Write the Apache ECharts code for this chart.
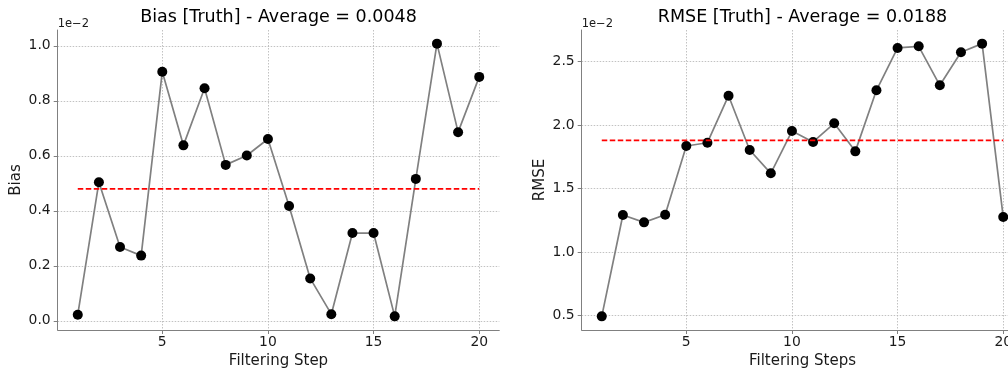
<!DOCTYPE html>
<html>
<head>
<meta charset="utf-8">
<script src="https://cdn.jsdelivr.net/npm/echarts@6/dist/echarts.min.js"></script>
<style>html,body{margin:0;padding:0;background:#fff;overflow:hidden;width:1008px;height:376px}#c{width:1030px;height:376px}</style>
</head>
<body>
<div id="c"></div>
<script>
// Values are shown in units of 1e-2 (matplotlib offset text)
var steps = [1,2,3,4,5,6,7,8,9,10,11,12,13,14,15,16,17,18,19,20];
var biasValues = [0.022,0.504,0.268,0.237,0.906,0.638,0.846,0.567,0.601,0.661,0.4175,0.154,0.024,0.319,0.319,0.016,0.516,1.008,0.686,0.887];
var rmseValues = [0.495,1.293,1.235,1.295,1.836,1.862,2.232,1.805,1.621,1.954,1.868,2.015,1.794,2.275,2.608,2.621,2.314,2.574,2.642,1.277];
var xTicks = [5,10,15,20];
var biasTicks = [0.0,0.2,0.4,0.6,0.8,1.0];
var rmseTicks = [0.5,1.0,1.5,2.0,2.5];
var scaleFactor = 1e-2;

function mean(a){var s=0;for(var i=0;i<a.length;i++)s+=a[i];return s/a.length;}
var biasMean = mean(biasValues);
var rmseMean = mean(rmseValues);

function pts(v){return steps.map(function(s,i){return [s,v[i]];});}
function range(v){var mn=Math.min.apply(null,v),mx=Math.max.apply(null,v),m=(mx-mn)*0.05;return [mn-m,mx+m];}
var biasR = range(biasValues), rmseR = range(rmseValues);
var xMin = steps[0]-(steps[steps.length-1]-steps[0])*0.05, xMax = steps[steps.length-1]+(steps[steps.length-1]-steps[0])*0.05;

var FONT = 'DejaVu Sans';
var TXT = '#1a1a1a';
var SPINE = '#808080';
var GRIDC = '#b3b3b3';

function xAxisCfg(idx, name){
  return {
    type:'value', gridIndex:idx, min:xMin, max:xMax,
    name:name, nameLocation:'middle', nameGap:22,
    nameTextStyle:{fontFamily:FONT,fontSize:15,color:TXT},
    axisLine:{show:true,onZero:false,lineStyle:{color:SPINE,width:1}},
    axisTick:{show:true,length:4,customValues:xTicks,lineStyle:{color:SPINE,width:1}},
    axisLabel:{customValues:xTicks,margin:5,fontFamily:FONT,fontSize:13.9,color:TXT},
    splitLine:{show:true,lineStyle:{color:GRIDC,width:0.8,type:[1.5,1.5]}}
  };
}
function yAxisCfg(idx, name, r, ticks){
  return {
    type:'value', gridIndex:idx, min:r[0], max:r[1],
    name:name, nameLocation:'middle', nameGap:34, nameRotate:90,
    nameTextStyle:{fontFamily:FONT,fontSize:15,color:TXT},
    axisLine:{show:true,lineStyle:{color:SPINE,width:1}},
    axisTick:{show:true,length:4,customValues:ticks,lineStyle:{color:SPINE,width:1}},
    axisLabel:{customValues:ticks,margin:7,fontFamily:FONT,fontSize:13.9,color:TXT,
      formatter:function(v){return v.toFixed(1);}},
    splitLine:{show:true,lineStyle:{color:GRIDC,width:0.8,type:[1.5,1.5]}}
  };
}
function dataSeries(idx, v){
  return {type:'line', xAxisIndex:idx, yAxisIndex:idx, data:pts(v),
    lineStyle:{color:'#808080',width:1.7}, symbol:'circle', symbolSize:10,
    itemStyle:{color:'#000'}, z:2, silent:true, animation:false};
}
function meanSeries(idx, m){
  return {type:'line', xAxisIndex:idx, yAxisIndex:idx,
    data:[[steps[0],m],[steps[steps.length-1],m]], symbol:'none',
    lineStyle:{color:'#ff0000',width:1.6,type:[5.5,2.5]}, z:3, silent:true, animation:false};
}

var chart = echarts.init(document.getElementById('c'), null, {renderer:'canvas'});
var G1 = {left:57.7, top:30, width:441.6, height:300};
var G2 = {left:581.7, top:30, width:441.6, height:300};
chart.setOption({
  animation:false,
  backgroundColor:'#fff',
  grid:[G1, G2],
  xAxis:[xAxisCfg(0,'Filtering Step'), xAxisCfg(1,'Filtering Steps')],
  yAxis:[yAxisCfg(0,'Bias',biasR,biasTicks), yAxisCfg(1,'RMSE',rmseR,rmseTicks)],
  series:[dataSeries(0,biasValues), meanSeries(0,biasMean), dataSeries(1,rmseValues), meanSeries(1,rmseMean)],
  graphic:[
    {type:'text', style:{text:'Bias [Truth] - Average = '+(biasMean*scaleFactor).toFixed(4), x:G1.left+G1.width/2, y:17.3, align:'center', verticalAlign:'middle', font:'17.5px "DejaVu Sans"', fill:'#000'}},
    {type:'text', style:{text:'RMSE [Truth] - Average = '+(rmseMean*scaleFactor).toFixed(4), x:G2.left+G2.width/2, y:17.3, align:'center', verticalAlign:'middle', font:'17.5px "DejaVu Sans"', fill:'#000'}},
    {type:'text', style:{text:'1e\u22122', x:G1.left, y:23.7, align:'left', verticalAlign:'middle', font:'11.5px "DejaVu Sans"', fill:TXT}},
    {type:'text', style:{text:'1e\u22122', x:G2.left, y:23.7, align:'left', verticalAlign:'middle', font:'11.5px "DejaVu Sans"', fill:TXT}}
  ]
});
</script>
</body>
</html>
